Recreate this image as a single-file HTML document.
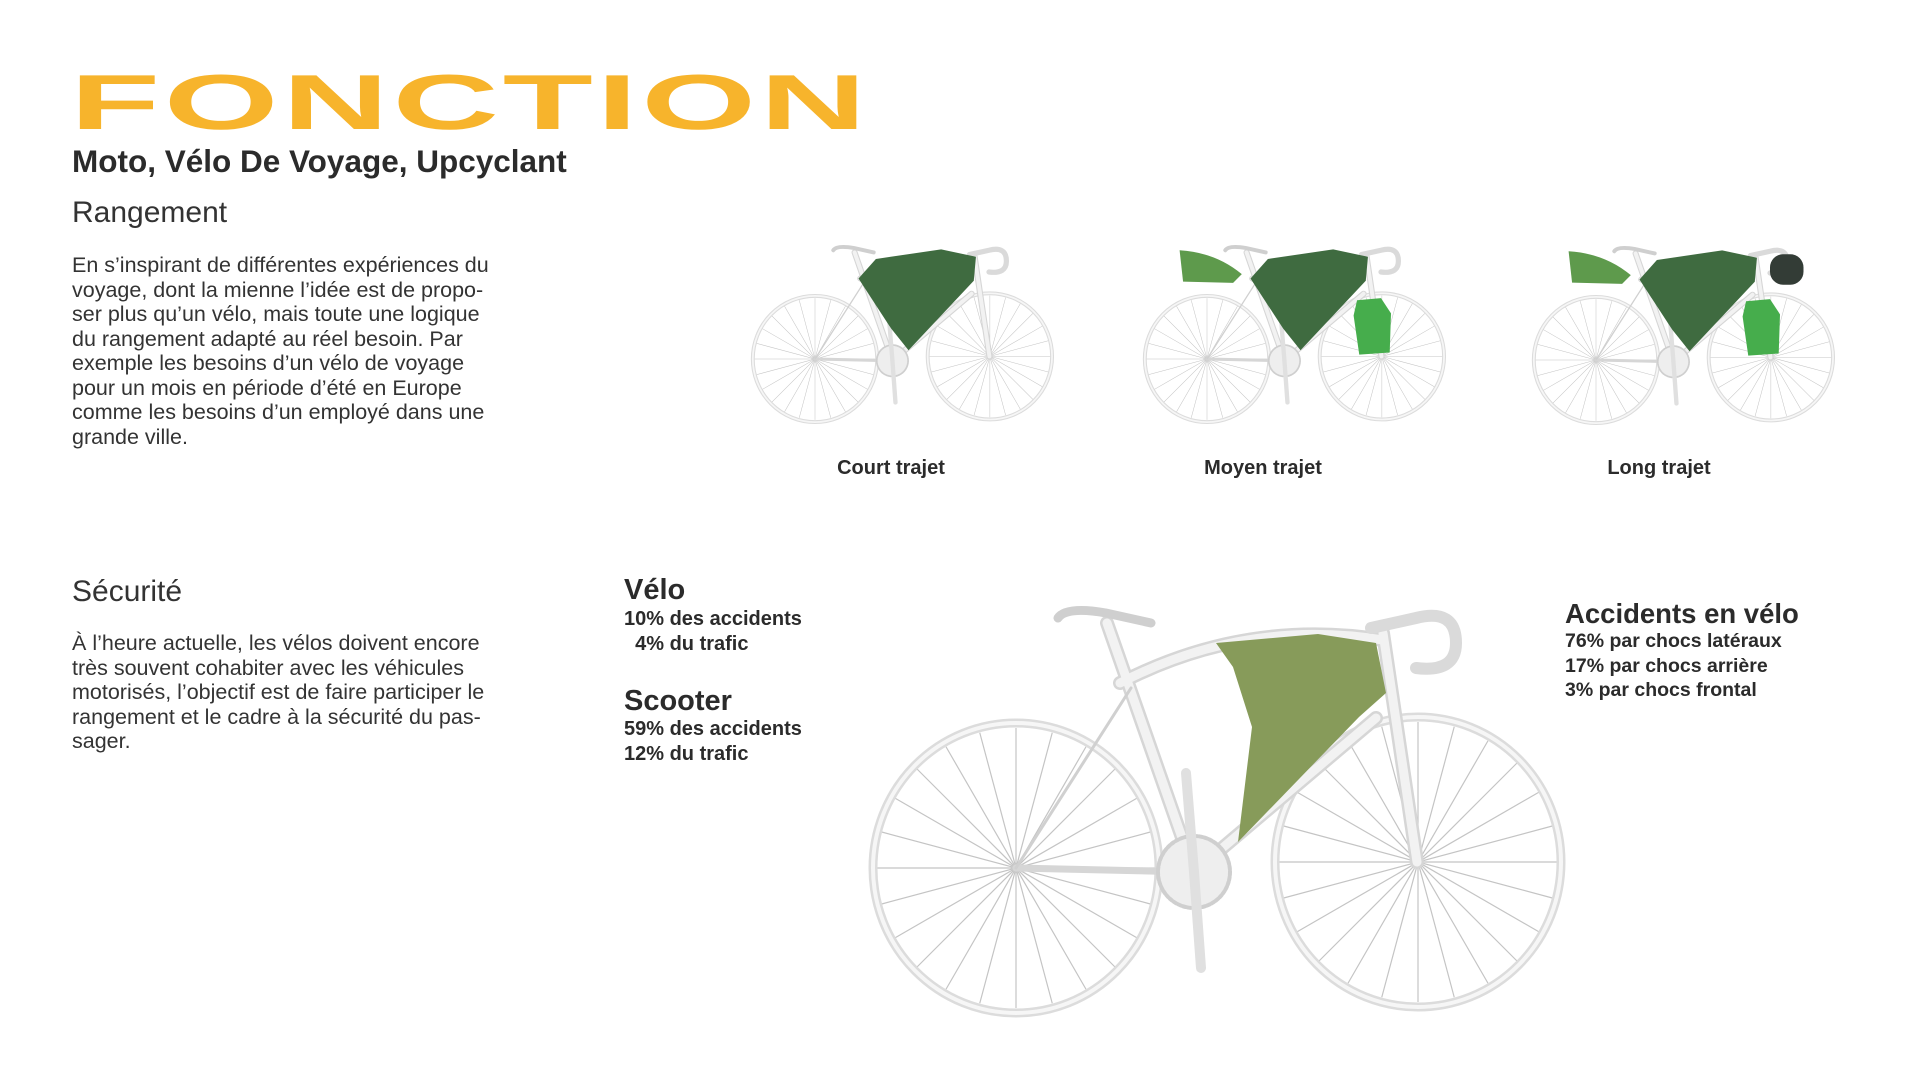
<!DOCTYPE html>
<html><head><meta charset="utf-8"><style>
body{margin:0;width:1920px;height:1080px;background:#fff;position:relative;overflow:hidden;font-family:"Liberation Sans",sans-serif;color:#333}
.a{position:absolute;white-space:nowrap}
.p{font-size:21.5px;line-height:24.5px;color:#333}
.b{font-weight:bold;color:#2b2b2b}
</style></head><body>
<div class="a" style="left:70px;top:54px;font-size:78px;font-weight:bold;color:#f7b42c;transform:scaleX(1.89);transform-origin:0 0;letter-spacing:2px;line-height:96px">FONCTION</div>
<div class="a b" style="left:72px;top:143px;font-size:31.5px;letter-spacing:0px">Moto, Vélo De Voyage, Upcyclant</div>
<div class="a" style="left:72px;top:196px;font-size:30px;color:#333">Rangement</div>
<div class="a p" style="left:72px;top:253px">En s’inspirant de différentes expériences du<br>voyage, dont la mienne l’idée est de propo-<br>ser plus qu’un vélo, mais toute une logique<br>du rangement adapté au réel besoin. Par<br>exemple les besoins d’un vélo de voyage<br>pour un mois en période d’été en Europe<br>comme les besoins d’un employé dans une<br>grande ville.</div>
<div class="a" style="left:72px;top:575px;font-size:30px">Sécurité</div>
<div class="a p" style="left:72px;top:631px">À l’heure actuelle, les vélos doivent encore<br>très souvent cohabiter avec les véhicules<br>motorisés, l’objectif est de faire participer le<br>rangement et le cadre à la sécurité du pas-<br>sager.</div>
<div class="a b" style="left:836px;top:457px;font-size:20px;width:110px;text-align:center">Court trajet</div>
<div class="a b" style="left:1193px;top:457px;font-size:20px;width:140px;text-align:center">Moyen trajet</div>
<div class="a b" style="left:1589px;top:457px;font-size:20px;width:140px;text-align:center">Long trajet</div>
<div class="a b" style="left:624px;top:574px;font-size:29px">Vélo</div>
<div class="a b" style="left:624px;top:607px;font-size:20px;line-height:24.5px">10% des accidents<br>&nbsp;&nbsp;4% du trafic</div>
<div class="a b" style="left:624px;top:685px;font-size:29px">Scooter</div>
<div class="a b" style="left:624px;top:717px;font-size:20px;line-height:24.5px">59% des accidents<br>12% du trafic</div>
<div class="a b" style="left:1565px;top:598px;font-size:27.5px">Accidents en vélo</div>
<div class="a b" style="left:1565px;top:629px;font-size:19.5px;line-height:24.5px">76% par chocs latéraux<br>17% par chocs arrière<br>3% par chocs frontal</div>
<svg class="a" style="left:0;top:0" width="1920" height="1080">
<defs>
<g id="sp" stroke="#c4c4c4" stroke-width="1.2">
<line x1="-140" y1="0" x2="140" y2="0"/><line x1="-140" y1="0" x2="140" y2="0" transform="rotate(15)"/><line x1="-140" y1="0" x2="140" y2="0" transform="rotate(30)"/><line x1="-140" y1="0" x2="140" y2="0" transform="rotate(45)"/><line x1="-140" y1="0" x2="140" y2="0" transform="rotate(60)"/><line x1="-140" y1="0" x2="140" y2="0" transform="rotate(75)"/><line x1="-140" y1="0" x2="140" y2="0" transform="rotate(90)"/><line x1="-140" y1="0" x2="140" y2="0" transform="rotate(105)"/><line x1="-140" y1="0" x2="140" y2="0" transform="rotate(120)"/><line x1="-140" y1="0" x2="140" y2="0" transform="rotate(135)"/><line x1="-140" y1="0" x2="140" y2="0" transform="rotate(150)"/><line x1="-140" y1="0" x2="140" y2="0" transform="rotate(165)"/>
</g>
<g id="wh"><use href="#sp"/><ellipse cx="0" cy="0" rx="143" ry="145" fill="none" stroke="#dcdcdc" stroke-width="9"/><ellipse cx="0" cy="0" rx="143" ry="145" fill="none" stroke="#f6f6f6" stroke-width="4"/><circle r="4" fill="#ccc"/></g>
<g id="frame" fill="none" stroke-linecap="round">
<g stroke="#d6d6d6" stroke-width="14">
<line x1="91" y1="-245" x2="178" y2="4"/><path d="M104 -185 Q230 -250 367 -228"/><line x1="367" y1="-235" x2="401" y2="-6"/><line x1="360" y1="-150" x2="178" y2="4"/>
</g>
<g stroke="#f2f2f2" stroke-width="9">
<line x1="91" y1="-245" x2="178" y2="4"/><path d="M104 -185 Q230 -250 367 -228"/><line x1="367" y1="-235" x2="401" y2="-6"/><line x1="360" y1="-150" x2="178" y2="4"/>
</g>
<line x1="0" y1="0" x2="178" y2="4" stroke="#d6d6d6" stroke-width="7"/>
<line x1="0" y1="0" x2="115" y2="-180" stroke="#d0d0d0" stroke-width="3"/>
<path d="M42 -250 Q50 -262 90 -255 L135 -245" stroke="#cfcfcf" stroke-width="9"/>
<path d="M355 -240 L400 -250 Q440 -260 440 -225 Q440 -195 400 -200" stroke="#dadada" stroke-width="12"/>
<circle cx="178" cy="4" r="36" fill="#eee" stroke="#cfcfcf" stroke-width="4" stroke-dasharray="3 2"/>
<line x1="178" y1="4" x2="170" y2="-95" stroke="#e0e0e0" stroke-width="10"/>
<line x1="178" y1="4" x2="185" y2="100" stroke="#e0e0e0" stroke-width="10"/>
</g>
<g id="bike"><use href="#wh"/><use href="#wh" x="402" y="-6"/><use href="#frame"/></g>
</defs>
<g transform="translate(1016,868)">
<use href="#bike"/>
<polygon points="200,-225 302,-234 360,-225 370,-175 343,-151 222,-26 236,-141 217,-201" fill="#879b5a"/>
</g>
<g transform="translate(815,359) scale(0.435)">
<use href="#bike"/>
<polygon points="100,-185 140,-230 290,-252 370,-235 365,-180 215,-20 175,-70" fill="#3f6b40"/>
</g>
<g transform="translate(1207,359) scale(0.435)">
<use href="#bike"/>
<polygon points="100,-185 140,-230 290,-252 370,-235 365,-180 215,-20 175,-70" fill="#3f6b40"/>
<path d="M-63 -250 Q20 -245 80 -195 L60 -175 L-55 -178 Z" fill="#5e9a4c"/>
<polygon points="345,-135 400,-140 423,-105 420,-15 350,-10 337,-100" fill="#46ad4c"/>
</g>
<g transform="translate(1596,360) scale(0.435)">
<use href="#bike"/>
<polygon points="100,-185 140,-230 290,-252 370,-235 365,-180 215,-20 175,-70" fill="#3f6b40"/>
<path d="M-63 -250 Q20 -245 80 -195 L60 -175 L-55 -178 Z" fill="#5e9a4c"/>
<polygon points="345,-135 400,-140 423,-105 420,-15 350,-10 337,-100" fill="#46ad4c"/>
<rect x="400" y="-243" width="77" height="70" rx="30" fill="#333c36"/>
</g>
</svg>
</body></html>
